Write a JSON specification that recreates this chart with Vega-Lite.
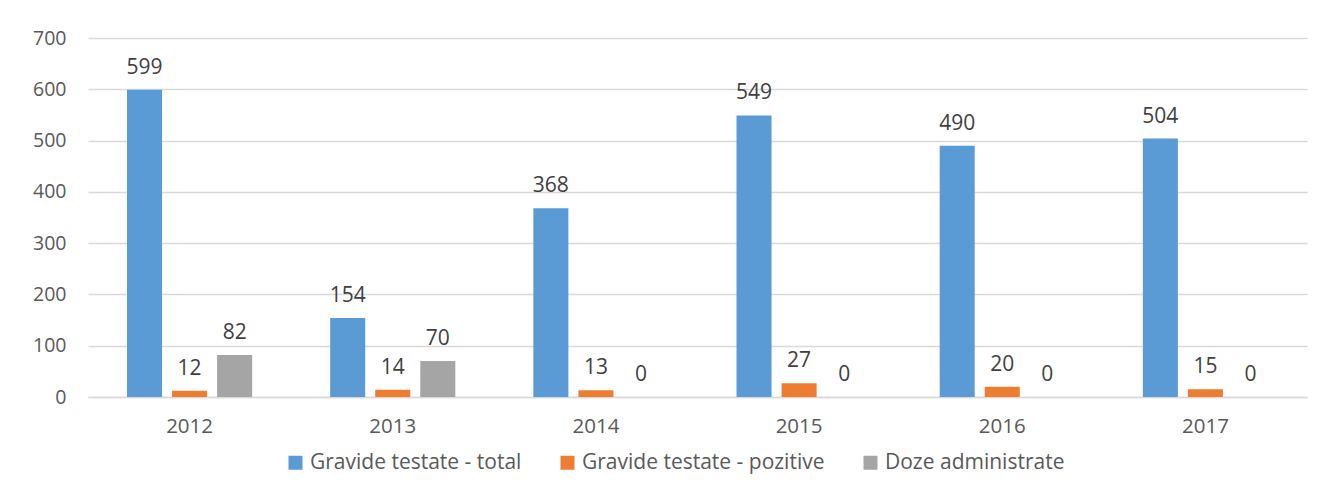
{
  "$schema": "https://vega.github.io/schema/vega-lite/v6.json",
  "width": 1219,
  "height": 359,
  "autosize": "none",
  "padding": {"left": 88, "top": 38, "right": 15, "bottom": 95},
  "background": "white",
  "config": {
    "font": "Open Sans",
    "view": {"stroke": null},
    "axis": {"labelFont": "Open Sans", "labelColor": "#595959", "labelFontSize": 19.5}
  },
  "data": {
    "values": [
      {"year": "2012", "series": "Gravide testate - total", "value": 599},
      {"year": "2012", "series": "Gravide testate - pozitive", "value": 12},
      {"year": "2012", "series": "Doze administrate", "value": 82},
      {"year": "2013", "series": "Gravide testate - total", "value": 154},
      {"year": "2013", "series": "Gravide testate - pozitive", "value": 14},
      {"year": "2013", "series": "Doze administrate", "value": 70},
      {"year": "2014", "series": "Gravide testate - total", "value": 368},
      {"year": "2014", "series": "Gravide testate - pozitive", "value": 13},
      {"year": "2014", "series": "Doze administrate", "value": 0},
      {"year": "2015", "series": "Gravide testate - total", "value": 549},
      {"year": "2015", "series": "Gravide testate - pozitive", "value": 27},
      {"year": "2015", "series": "Doze administrate", "value": 0},
      {"year": "2016", "series": "Gravide testate - total", "value": 490},
      {"year": "2016", "series": "Gravide testate - pozitive", "value": 20},
      {"year": "2016", "series": "Doze administrate", "value": 0},
      {"year": "2017", "series": "Gravide testate - total", "value": 504},
      {"year": "2017", "series": "Gravide testate - pozitive", "value": 15},
      {"year": "2017", "series": "Doze administrate", "value": 0}
    ]
  },
  "encoding": {
    "x": {
      "field": "year", "type": "nominal",
      "scale": {"paddingInner": 0.384, "paddingOuter": 0.192},
      "axis": {"title": null, "labelAngle": 0, "labelFontSize": 20.5, "domain": true, "domainColor": "#d9d9d9", "domainWidth": 1.5, "ticks": false, "labelPadding": 19}
    },
    "xOffset": {
      "field": "series", "type": "nominal",
      "sort": ["Gravide testate - total", "Gravide testate - pozitive", "Doze administrate"],
      "scale": {"paddingInner": 0.222, "paddingOuter": 0}
    },
    "y": {
      "field": "value", "type": "quantitative",
      "scale": {"domain": [0, 700]},
      "axis": {"title": null, "values": [0,100,200,300,400,500,600,700], "labelOverlap": false, "domain": false, "ticks": false, "labelPadding": 22, "gridColor": "#d9d9d9", "gridWidth": 1.5}
    }
  },
  "layer": [
    {
      "mark": {"type": "bar"},
      "encoding": {
        "color": {
          "field": "series", "type": "nominal",
          "scale": {
            "domain": ["Gravide testate - total", "Gravide testate - pozitive", "Doze administrate"],
            "range": ["#5B9BD5", "#ED7D31", "#A5A5A5"]
          },
          "legend": {
            "title": null, "orient": "none", "legendX": 197, "legendY": 414, "direction": "horizontal",
            "symbolType": "square", "symbolSize": 196, "symbolStrokeWidth": 0,
            "labelFontSize": 21, "labelColor": "#595959", "labelFont": "Open Sans",
            "columnPadding": 35, "symbolOffset": 0, "labelOffset": 4, "labelLimit": 400
          }
        }
      }
    },
    {
      "mark": {"type": "text", "baseline": "alphabetic", "dy": -16, "fontSize": 21, "color": "#404040", "font": "Open Sans"},
      "encoding": {
        "text": {"field": "value", "type": "quantitative"}
      }
    }
  ]
}
